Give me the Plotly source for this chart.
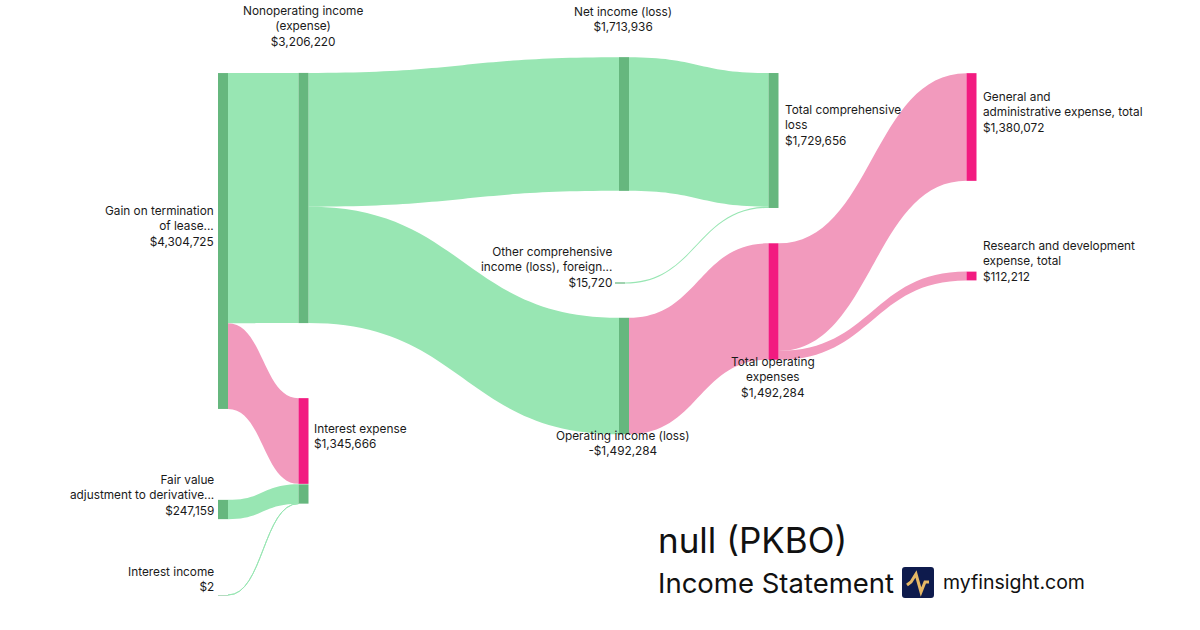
import plotly.graph_objects as go

W, H = 1200, 630

# ---------------- data ----------------
node_names = [
    "Gain on termination<br>of lease...",
    "Fair value<br>adjustment to derivative...",
    "Interest income",
    "Nonoperating income<br>(expense)",
    "Interest expense",
    "Net income (loss)",
    "Operating income (loss)",
    "Other comprehensive<br>income (loss), foreign...",
    "Total comprehensive<br>loss",
    "Total operating<br>expenses",
    "General and<br>administrative expense, total",
    "Research and development<br>expense, total",
]
node_amounts = [4304725, 247159, 2, 3206220, 1345666, 1713936, -1492284,
                15720, 1729656, 1492284, 1380072, 112212]
node_kind = ["inc", "inc", "inc", "inc", "exp", "inc", "inc",
             "inc", "inc", "exp", "exp", "exp", "inc"]  # last: lower part of Interest expense

link_source = [0, 0, 1, 2, 3, 3, 5, 7, 6, 9, 9]
link_target = [3, 4, 12, 12, 5, 6, 8, 8, 9, 10, 11]
link_value = [3206220, 1098505, 247159, 2, 1713936, 1492284,
              1713936, 15720, 1492284, 1380072, 112212]
link_kind = ["inc", "exp", "inc", "inc", "inc", "inc",
             "inc", "inc", "exp", "exp", "exp"]

# ---------------- styling / layout ----------------
GREEN_NODE = "#66b77e"
GREEN_LINK = "#98e6b3"
PINK_NODE = "#f21b80"
PINK_LINK = "#f29abd"
TEXT = "#1a1a1a"
FONT = "Inter"

# node centres in pixels (layout)
node_cx = [223, 223, 223, 303.5, 303.5, 624, 624, 620, 773.5, 773.5, 971.5, 971.5, 303.5]
node_cy = [241, 509.5, 595, 198, 441, 124, 376, 283, 140.5, 301.5, 127, 276, 494]


def fmt(v):
    return ("-$" if v < 0 else "$") + f"{abs(v):,}"


node_labels = [n.replace("<br>", " ") for n in node_names] + ["Interest expense"]
node_colors = [GREEN_NODE if k == "inc" else PINK_NODE for k in node_kind]
link_colors = [GREEN_LINK if k == "inc" else PINK_LINK for k in link_kind]

fig = go.Figure(go.Sankey(
    arrangement="fixed",
    domain=dict(x=[0, 1], y=[0, 1]),
    node=dict(
        label=node_labels,
        color=node_colors,
        x=[c / W for c in node_cx],
        y=[c / H for c in node_cy],
        pad=68.4,
        thickness=10,
        line=dict(width=0),
        hoverinfo="none",
    ),
    link=dict(
        source=link_source,
        target=link_target,
        value=link_value,
        color=link_colors,
        hoverinfo="none",
    ),
    textfont=dict(color="rgba(0,0,0,0)", size=1),
))

# label placements (px): x, y centre, anchor
label_pos = [
    (216, 226, "right"),
    (216, 495, "right"),
    (216, 579, "right"),
    (303, 27, "center"),
    (312, 436, "left"),
    (623, 19, "center"),
    (623, 443, "center"),
    (614, 267, "right"),
    (783, 126, "left"),
    (773, 377, "center"),
    (981, 112, "left"),
    (981, 261, "left"),
]

annotations = []
for name, amt, (x, y, anc) in zip(node_names, node_amounts, label_pos):
    annotations.append(dict(
        text=f"{name}<br>{fmt(amt)}",
        x=x / W, y=1 - y / H, xref="paper", yref="paper",
        xanchor=anc, yanchor="middle", align=anc,
        showarrow=False, font=dict(family=FONT, size=11.8, color=TEXT),
    ))

annotations += [
    dict(text="null (PKBO)", x=656 / W, y=1 - 540 / H, xref="paper", yref="paper",
         xanchor="left", yanchor="middle", showarrow=False,
         font=dict(family=FONT, size=35, color="#111")),
    dict(text="Income Statement", x=656 / W, y=1 - 583 / H, xref="paper", yref="paper",
         xanchor="left", yanchor="middle", showarrow=False,
         font=dict(family=FONT, size=27.5, color="#111")),
    dict(text="myfinsight.com", x=941 / W, y=1 - 582 / H, xref="paper", yref="paper",
         xanchor="left", yanchor="middle", showarrow=False,
         font=dict(family=FONT, size=19.5, color="#111")),
]


def P(x, y):
    return f"{x / W:.5f},{1 - y / H:.5f}"


# logo: rounded navy square with gold pulse
x0, y0, x1, y1, r = 902, 567, 934, 598, 3
logo_path = (f"M {P(x0 + r, y0)} L {P(x1 - r, y0)} Q {P(x1, y0)} {P(x1, y0 + r)} "
             f"L {P(x1, y1 - r)} Q {P(x1, y1)} {P(x1 - r, y1)} L {P(x0 + r, y1)} "
             f"Q {P(x0, y1)} {P(x0, y1 - r)} L {P(x0, y0 + r)} Q {P(x0, y0)} {P(x0 + r, y0)} Z")
pulse = (f"M {P(907, 585)} L {P(911, 582)} L {P(916, 574)} L {P(921, 592)} "
         f"L {P(925, 582)} L {P(929, 582)}")
shapes = [
    dict(type="path", path=logo_path, xref="paper", yref="paper",
         fillcolor="#0e1b4d", line=dict(width=0)),
    dict(type="path", path=pulse, xref="paper", yref="paper",
         line=dict(color="#e6b865", width=3)),
]

fig.update_layout(
    width=W, height=H,
    margin=dict(l=0, r=0, t=0, b=0),
    paper_bgcolor="white", plot_bgcolor="white",
    font=dict(family=FONT, color=TEXT),
    annotations=annotations,
    shapes=shapes,
    showlegend=False,
)

fig.write_html("out.html", config={"displayModeBar": False, "staticPlot": True},
               post_script="document.body.style.margin='0';")
